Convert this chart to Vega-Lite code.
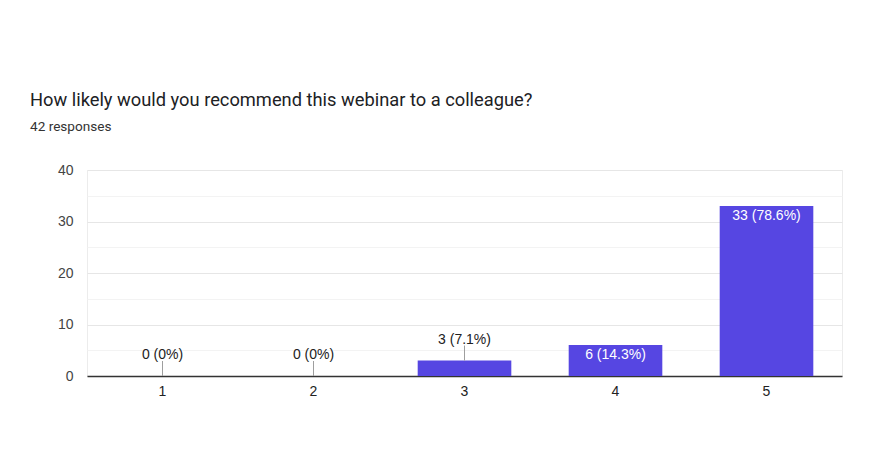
{
  "$schema": "https://vega.github.io/schema/vega-lite/v6.json",
  "width": 755,
  "height": 206,
  "autosize": {"type": "none"},
  "padding": {"left": 87, "top": 170, "right": 29, "bottom": 81},
  "background": "white",
  "config": {
    "font": "Liberation Sans",
    "view": {"stroke": "#ececec"}
  },
  "title": {
    "text": "How likely would you recommend this webinar to a colleague?",
    "subtitle": "42 responses",
    "anchor": "start",
    "frame": "group",
    "dx": -57,
    "offset": 28,
    "font": "Roboto",
    "fontSize": 18.3,
    "fontWeight": "normal",
    "color": "#202124",
    "subtitleFont": "Roboto",
    "subtitleFontSize": 13.6,
    "subtitleColor": "#333333",
    "subtitlePadding": 10
  },
  "data": {
    "values": [
      {"rating": "1", "count": 0, "label": "0 (0%)"},
      {"rating": "2", "count": 0, "label": "0 (0%)"},
      {"rating": "3", "count": 3, "label": "3 (7.1%)"},
      {"rating": "4", "count": 6, "label": "6 (14.3%)"},
      {"rating": "5", "count": 33, "label": "33 (78.6%)"}
    ]
  },
  "encoding": {
    "x": {
      "field": "rating",
      "type": "nominal",
      "sort": null,
      "title": null,
      "scale": {"paddingInner": 0.38, "paddingOuter": 0.19},
      "axis": {
        "labelAngle": 0,
        "ticks": false,
        "labelPadding": 8,
        "labelFont": "Liberation Sans",
        "labelFontSize": 14,
        "labelColor": "#222222",
        "domainColor": "#333333",
        "domainWidth": 1.5,
        "grid": false
      }
    },
    "y": {
      "field": "count",
      "type": "quantitative",
      "title": null,
      "scale": {"domain": [0, 40], "nice": false},
      "axis": {
        "values": [0, 5, 10, 15, 20, 25, 30, 35, 40],
        "labelExpr": "datum.value % 10 === 0 ? datum.label : ''",
        "domain": false,
        "ticks": false,
        "labelPadding": 14,
        "labelFont": "Liberation Sans",
        "labelFontSize": 14,
        "labelColor": "#444444",
        "gridColor": {"condition": {"test": "datum.value % 10 === 0", "value": "#e6e6e6"}, "value": "#f3f3f3"},
        "gridWidth": 1
      }
    }
  },
  "layer": [
    {"mark": {"type": "bar", "color": "#5646e2"}},
    {
      "transform": [{"filter": "datum.count < 5"}],
      "mark": {"type": "rule", "color": "#9e9e9e", "strokeWidth": 1, "yOffset": -15, "y2Offset": 0},
      "encoding": {"y2": {"field": "count"}}
    },
    {
      "transform": [{"filter": "datum.count < 5"}],
      "mark": {"type": "text", "baseline": "middle", "dy": -21, "fontSize": 14, "color": "#222222", "font": "Liberation Sans"},
      "encoding": {"text": {"field": "label"}}
    },
    {
      "transform": [{"filter": "datum.count >= 5"}],
      "mark": {"type": "text", "baseline": "middle", "dy": 10, "fontSize": 14, "color": "#ffffff", "font": "Liberation Sans"},
      "encoding": {"text": {"field": "label"}}
    }
  ]
}
